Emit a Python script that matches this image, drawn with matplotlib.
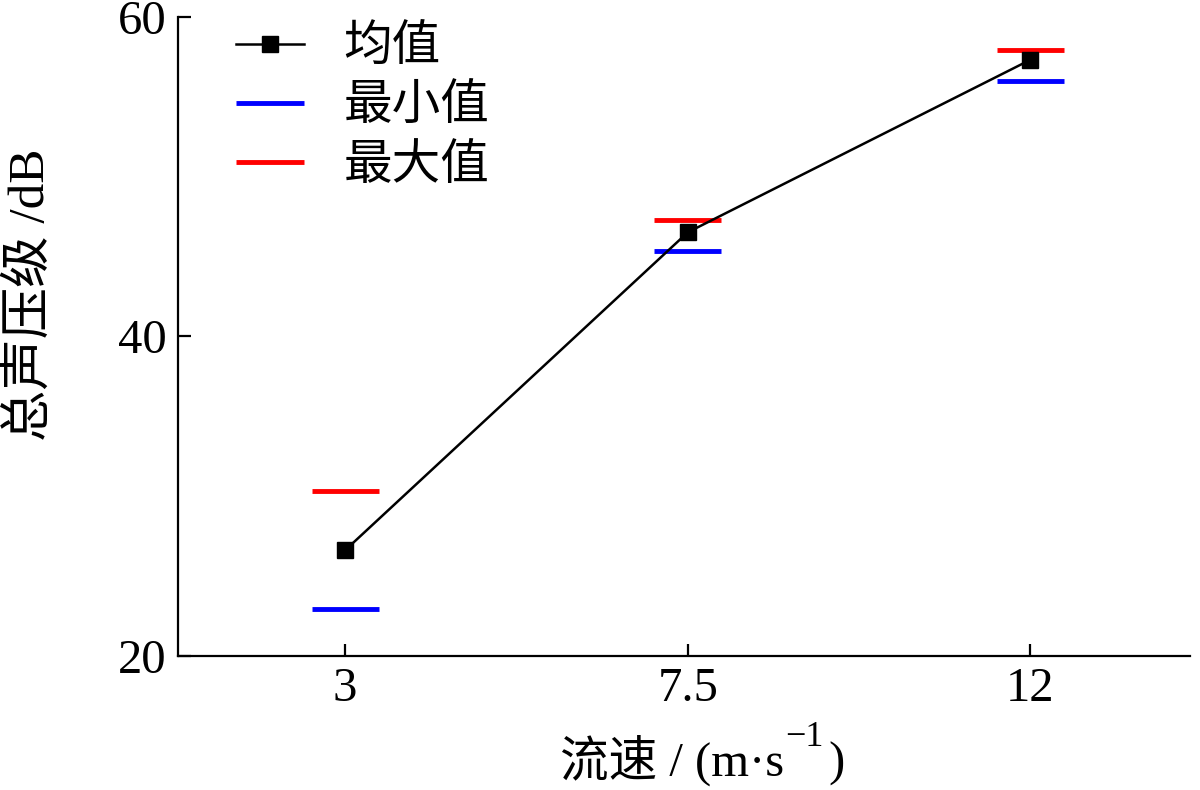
import matplotlib
matplotlib.use("Agg")
import matplotlib.pyplot as plt

#### __data__ ####

speed = [3, 7.5, 12]
spl_mean = [26.6, 46.5, 57.3]
spl_min = [22.9, 45.3, 56.0]
spl_max = [30.3, 47.3, 57.9]

x_ticks = [3, 7.5, 12]
x_tick_labels = ["3", "7.5", "12"]
y_ticks = [20, 40, 60]

#### __style__ ####

fonts = ['Liberation Serif', 'Noto Sans CJK SC', 'DejaVu Sans']
plt.rcParams['font.family'] = fonts

fig = plt.figure(figsize=(12, 7.9), dpi=100)
ax = fig.add_axes([0.148, 0.170, 0.844, 0.809])

# min / max as short horizontal bars
half_w = 0.44
ax.hlines(spl_min, [s - half_w for s in speed], [s + half_w for s in speed],
          colors="#0000ff", linewidth=3.5, label="最小值")
ax.hlines(spl_max, [s - half_w for s in speed], [s + half_w for s in speed],
          colors="#ff0000", linewidth=3.5, label="最大值")

# mean line with square markers
ax.plot(speed, spl_mean, color="black", linewidth=1.8, marker="s",
        markersize=12, label="均值", zorder=3)

ax.set_xlim(0.8, 14.1)
ax.set_ylim(20, 60)
ax.set_xticks(x_ticks)
ax.set_xticklabels(x_tick_labels)
ax.set_yticks(y_ticks)

ax.spines["top"].set_visible(False)
ax.spines["right"].set_visible(False)
for sp in ["left", "bottom"]:
    ax.spines[sp].set_linewidth(1.6)

ax.tick_params(direction="in", length=9, width=1.6, labelsize=35, pad=8)

ax.set_ylabel("总声压级 /dB", fontsize=37)
ax.yaxis.set_label_coords(-0.121, 0.565)

# x label built from pieces so the superscript keeps the font fallback
t1 = fig.text(0.4667, 0.018, "流速 / (m·s", fontsize=35, va="baseline", ha="left")
t2 = ax.annotate("−1", xy=(1, 44), xycoords=(t1, "figure pixels"), xytext=(1, 0),
                 textcoords="offset points", fontsize=26, va="baseline", ha="left",
                 annotation_clip=False)
t3 = ax.annotate(")", xy=(1, 14), xycoords=(t2, "figure pixels"), xytext=(3, 0),
                 textcoords="offset points", fontsize=35, va="baseline", ha="left",
                 annotation_clip=False)

# legend order: mean, min, max
handles, labels = ax.get_legend_handles_labels()
order = [labels.index(l) for l in ["均值", "最小值", "最大值"]]
ax.legend([handles[i] for i in order], [labels[i] for i in order],
          loc="upper left", bbox_to_anchor=(0.058, 0.985), frameon=False,
          fontsize=35, handlelength=1.4, handletextpad=0.8, labelspacing=0.29,
          borderaxespad=0, borderpad=0)

fig.savefig("out.png", dpi=100)
